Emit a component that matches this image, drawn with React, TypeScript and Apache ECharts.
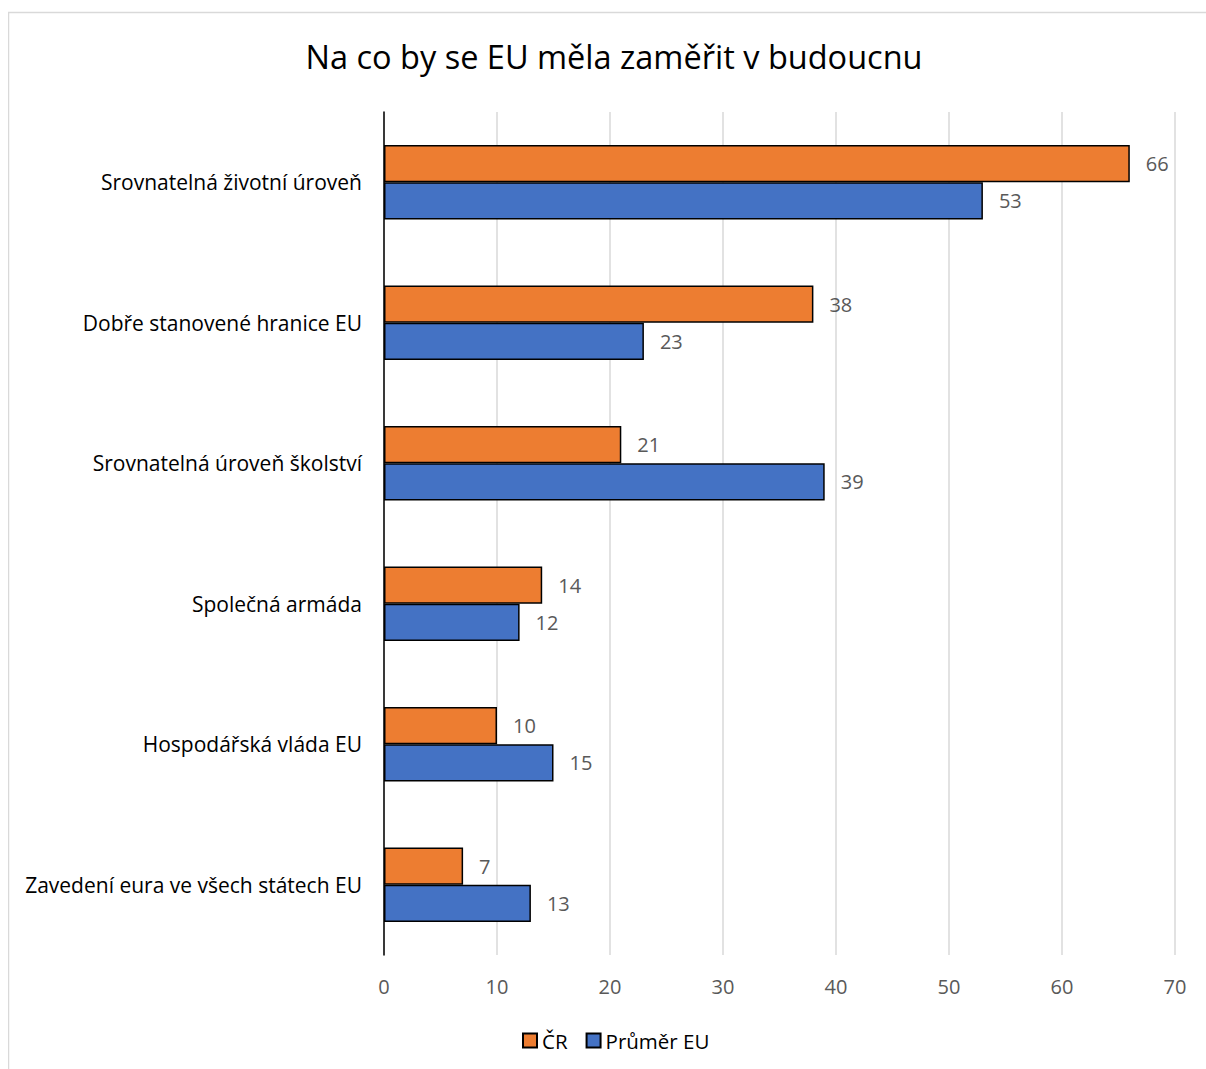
import React, { useEffect, useRef } from "react";
import * as echarts from "echarts";

const categories = [
  "Srovnatelná životní úroveň",
  "Dobře stanovené hranice EU",
  "Srovnatelná úroveň školství",
  "Společná armáda",
  "Hospodářská vláda EU",
  "Zavedení eura ve všech státech EU",
];
const seriesNames = ["ČR", "Průměr EU"];
const crValues = [66, 38, 21, 14, 10, 7];
const euValues = [53, 23, 39, 12, 15, 13];
const titleText = "Na co by se EU měla zaměřit v budoucnu";

const FONT = "'Open Sans', sans-serif";

export default function App() {
  const ref = useRef<HTMLDivElement>(null);
  useEffect(() => {
    if (!ref.current) return;
    const chart = echarts.init(ref.current, null, { renderer: "svg" });
    const labelStyle = {
      show: true,
      position: "right",
      distance: 16,
      color: "#595959",
      fontSize: 20,
      fontFamily: FONT,
    };
    chart.setOption({
      animation: false,
      backgroundColor: "#fff",
      graphic: [
        {
          type: "rect",
          shape: { x: 0.5, y: 4.5, width: 1400, height: 1200 },
          style: { fill: "none", stroke: "#d9d9d9", lineWidth: 1.5 },
          silent: true,
        },
      ],
      title: {
        text: titleText,
        left: 601,
        textAlign: "center",
        top: 27,
        textStyle: {
          fontFamily: FONT,
          fontSize: 32.5,
          fontWeight: "normal",
          color: "#000",
        },
      },
      legend: {
        data: seriesNames,
        bottom: 13,
        left: 509,
        itemWidth: 14,
        itemHeight: 14,
        itemGap: 18,
        icon: "rect",
        textStyle: { fontFamily: FONT, fontSize: 20.5, color: "#000" },
      },
      grid: { left: 376, right: 31, top: 104, bottom: 114, containLabel: false },
      xAxis: {
        type: "value",
        min: 0,
        max: 70,
        interval: 10,
        axisLine: { show: false },
        axisTick: { show: false },
        splitLine: { show: true, lineStyle: { color: "#d9d9d9", width: 1.5 } },
        axisLabel: { fontFamily: FONT, fontSize: 20, color: "#595959", margin: 21 },
      },
      yAxis: {
        type: "category",
        data: categories,
        inverse: true,
        axisLine: { show: true, lineStyle: { color: "#000", width: 1.5 } },
        axisTick: { show: false },
        axisLabel: { fontFamily: FONT, fontSize: 21, color: "#000", margin: 22 },
      },
      series: [
        {
          name: seriesNames[0],
          type: "bar",
          data: crValues,
          barGap: "0%",
          barCategoryGap: "47%",
          itemStyle: { color: "#ed7d31", borderColor: "#000", borderWidth: 1.5 },
          label: labelStyle,
        },
        {
          name: seriesNames[1],
          type: "bar",
          data: euValues,
          barGap: "0%",
          barCategoryGap: "47%",
          itemStyle: { color: "#4472c4", borderColor: "#000", borderWidth: 1.5 },
          label: labelStyle,
        },
      ],
    });
    return () => chart.dispose();
  }, []);
  return (
    <div
      ref={ref}
      style={{ position: "fixed", left: 8, top: 8, width: 1198, height: 1061 }}
    />
  );
}
